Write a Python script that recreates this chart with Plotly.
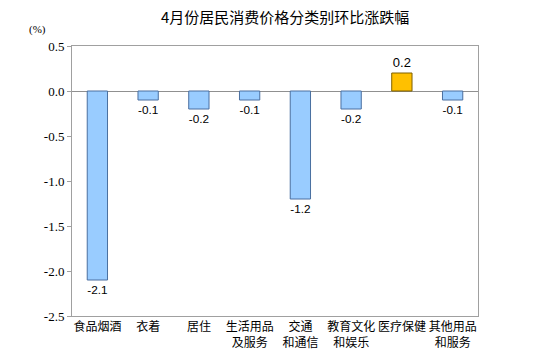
import plotly.graph_objects as go

categories = ["食品烟酒", "衣着", "居住", "生活用品<br>及服务", "交通<br>和通信", "教育文化<br>和娱乐", "医疗保健", "其他用品<br>和服务"]
values = [-2.1, -0.1, -0.2, -0.1, -1.2, -0.2, 0.2, -0.1]
labels = ["-2.1", "-0.1", "-0.2", "-0.1", "-1.2", "-0.2", "0.2", "-0.1"]
y_ticks = [0.5, 0.0, -0.5, -1.0, -1.5, -2.0, -2.5]
y_tick_text = ["0.5", "0.0", "-0.5", "-1.0", "-1.5", "-2.0", "-2.5"]

colors = ["#FFC000" if v > 0 else "#99CCFF" for v in values]
line_colors = ["#7F6000" if v > 0 else "#4A6FA0" for v in values]

serif = "Times New Roman, Liberation Serif, serif"

fig = go.Figure()
fig.add_trace(go.Bar(
    x=categories, y=values, width=0.4,
    marker=dict(color=colors, line=dict(color=line_colors, width=1)),
    text=labels, textposition="outside", cliponaxis=False,
    textfont=dict(family="Liberation Sans", size=13, color="black"),
    hoverinfo="skip",
))

fig.update_layout(
    width=539, height=362,
    margin=dict(l=72, r=61, t=46, b=46, autoexpand=False),
    paper_bgcolor="white", plot_bgcolor="white",
    showlegend=False,
    title=dict(text="4月份居民消费价格分类别环比涨跌幅", x=0.529, xanchor="center", y=0.95, yanchor="middle",
               font=dict(family="Noto Sans CJK SC", size=15, color="black")),
    xaxis=dict(showline=True, linecolor="#A0A0A0", mirror=True, ticks="", automargin=False, tickangle=0,
               tickfont=dict(family="Noto Sans CJK SC", size=12, color="black"),
               showgrid=False),
    yaxis=dict(range=[-2.5, 0.5], tickvals=y_ticks, ticktext=y_tick_text, automargin=False,
               showline=True, linecolor="#A0A0A0", mirror=True, ticks="outside", ticklen=4,
               tickcolor="#A0A0A0", showgrid=False, zeroline=True, zerolinecolor="#909090", zerolinewidth=1,
               tickfont=dict(family=serif, size=13, color="black")),
)
fig.add_annotation(text="(%)", xref="paper", yref="paper", x=-0.085, y=1.03, xanchor="center", yanchor="bottom",
                   showarrow=False, font=dict(family=serif, size=11, color="black"))

fig.write_html("out.html", config={"displayModeBar": False},
               post_script="document.body.style.margin='0';document.body.style.padding='0';")
